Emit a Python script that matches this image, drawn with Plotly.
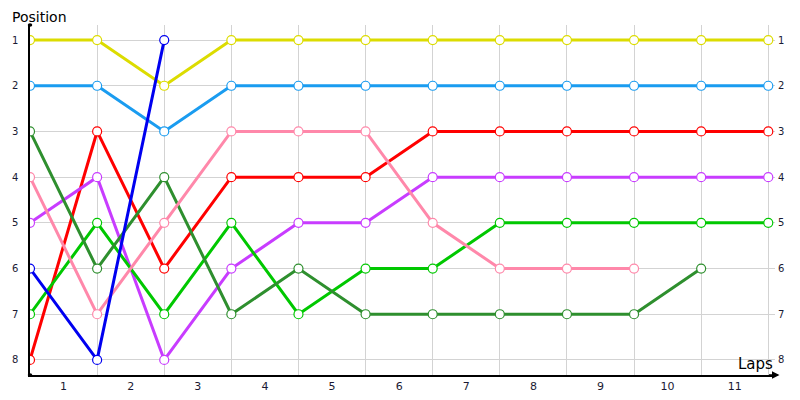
import plotly.graph_objects as go

laps = list(range(12))
lap_labels = [str(i) for i in range(1, 12)]
positions = list(range(1, 9))

# position of each car after each lap (index 0 = start)
yellow = [1, 1, 2, 1, 1, 1, 1, 1, 1, 1, 1, 1]
light_blue = [2, 2, 3, 2, 2, 2, 2, 2, 2, 2, 2, 2]
red = [8, 3, 6, 4, 4, 4, 3, 3, 3, 3, 3, 3]
purple = [5, 4, 8, 6, 5, 5, 4, 4, 4, 4, 4, 4]
green = [7, 5, 7, 5, 7, 6, 6, 5, 5, 5, 5, 5]
dark_green = [3, 6, 4, 7, 6, 7, 7, 7, 7, 7, 6]
pink = [4, 7, 5, 3, 3, 3, 5, 6, 6, 6]
blue = [6, 8, 1]

series = [
    (yellow, "#dcdc00"),
    (light_blue, "#1a9cf0"),
    (red, "#ff0000"),
    (purple, "#c83cff"),
    (green, "#00c800"),
    (dark_green, "#2e8f2e"),
    (pink, "#ff88aa"),
    (blue, "#0000f0"),
]

FONT = "DejaVu Sans"
GRID = "#d3d3d3"


def create_line(values, color):
    return go.Scatter(
        x=laps[: len(values)],
        y=values,
        mode="lines+markers",
        line=dict(color=color, width=3),
        marker=dict(
            size=9, color="white", line=dict(color=color, width=1.2), symbol="circle"
        ),
        showlegend=False,
        hoverinfo="x+y",
    )


fig = go.Figure([create_line(v, c) for v, c in series])
# invisible trace so the right axis is drawn
fig.add_trace(
    go.Scatter(x=[0], y=[1], yaxis="y2", mode="markers", opacity=0, showlegend=False,
               hoverinfo="skip")
)

# page has an 8px body margin, so the figure is a bit smaller than the window
yrange = [8.33, 0.67]
fig.update_layout(
    width=792,
    height=392,
    margin=dict(l=22, r=25, t=17, b=25),
    paper_bgcolor="white",
    plot_bgcolor="white",
    font=dict(family=FONT, size=10, color="#1a1a33"),
    xaxis=dict(
        range=[0, 11.1],
        automargin=False,
        tickmode="array",
        tickvals=[i + 0.5 for i in range(11)],
        ticktext=lap_labels,
        showgrid=False,
        zeroline=False,
        ticks="",
        tickfont=dict(size=11),
        showline=True,
        linecolor="black",
        linewidth=1.5,
        minor=dict(tickvals=laps, showgrid=True, gridcolor=GRID, gridwidth=1, ticks=""),
    ),
    yaxis=dict(
        range=yrange,
        automargin=False,
        tickmode="array",
        tickvals=positions,
        showgrid=True,
        gridcolor=GRID,
        zeroline=False,
        ticks="",
        showline=True,
        linecolor="black",
        linewidth=1.5,
        ticklabelstandoff=8,
    ),
    yaxis2=dict(
        range=yrange,
        automargin=False,
        overlaying="y",
        side="right",
        tickmode="array",
        tickvals=positions,
        showgrid=False,
        zeroline=False,
        ticks="",
        showline=False,
        ticklabelstandoff=2,
    ),
    annotations=[
        dict(text="Position", xref="paper", yref="paper", x=-0.027, y=1.0,
             yshift=-2, xanchor="left", yanchor="bottom", showarrow=False,
             font=dict(family=FONT, size=14, color="black")),
        dict(text="Laps", xref="paper", yref="paper", x=1.0, y=0.0,
             xanchor="right", yanchor="bottom", showarrow=False,
             font=dict(family=FONT, size=15, color="black")),
        # arrow at the end of the x axis
        dict(x=1.006, y=0, ax=-12, ay=0, xref="paper", yref="paper",
             text="", showarrow=True,
             arrowhead=2, arrowsize=1, arrowwidth=1.5, arrowcolor="black"),
    ],
    shapes=[
        dict(type="circle", xref="paper", yref="paper", x0=-0.003, x1=0.003,
             y0=0.995, y1=1.005, fillcolor="black", line=dict(color="black", width=0)),
        dict(type="circle", xref="paper", yref="paper", x0=-0.003, x1=0.003,
             y0=-0.005, y1=0.005, fillcolor="black", line=dict(color="black", width=0)),
    ],
)

fig.write_html("out.html")
